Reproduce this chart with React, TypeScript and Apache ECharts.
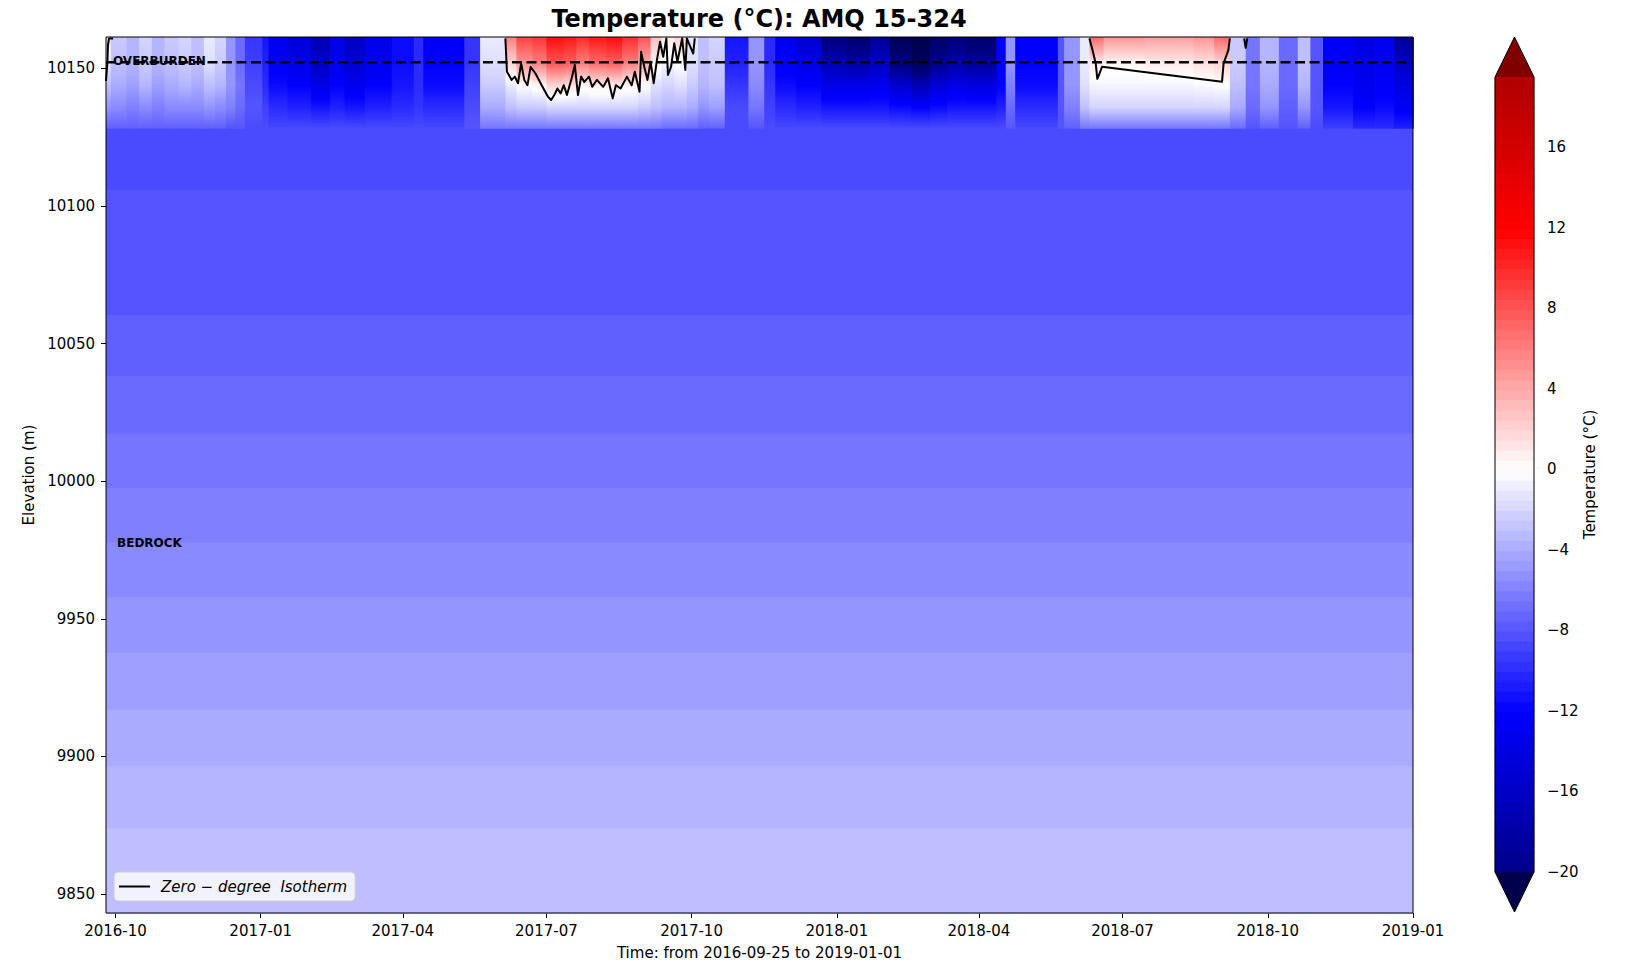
import React, { useEffect, useRef } from 'react';
import * as echarts from 'echarts';

const FONT = 'DejaVu Sans';

// ---------- axes ----------
const X_MIN = '2016-09-25';
const X_MAX = '2019-01-01';
const xTickDates = ['2016-10-01', '2017-01-01', '2017-04-01', '2017-07-01', '2017-10-01', '2018-01-01', '2018-04-01', '2018-07-01', '2018-10-01', '2019-01-01'];
const Y_MIN = 9843.1;
const Y_MAX = 10161.4;
const yTicks = [9850, 9900, 9950, 10000, 10050, 10100, 10150];

// ---------- deep (bedrock) temperature bands, constant in time ----------
const bandTopElev = [10128.3, 10105.8, 10060.4, 10038.3, 10017.2, 9997.6, 9977.6, 9957.7, 9937.7, 9917.0, 9896.3, 9873.8];
const bandTemp = [-8.5, -8.0, -7.5, -7.0, -6.5, -6.0, -5.5, -5.0, -4.5, -4.0, -3.5, -3.0];

// ---------- shallow temperatures (time columns) ----------
const shallowElev = [10161.4, 10152, 10144, 10136, 10128.3];
const shallowDates = [
  '2016-09-25', '2016-09-28', '2016-10-08', '2016-10-16', '2016-10-24', '2016-11-01', '2016-11-10', '2016-11-18', '2016-11-26', '2016-12-03',
  '2016-12-10', '2016-12-16', '2016-12-22', '2017-01-02', '2017-01-06', '2017-01-18', '2017-02-02', '2017-02-14', '2017-02-23', '2017-03-08',
  '2017-03-25', '2017-04-08', '2017-04-14', '2017-05-10', '2017-05-20', '2017-06-05', '2017-06-12', '2017-06-22', '2017-07-01', '2017-07-12',
  '2017-07-20', '2017-07-28', '2017-08-08', '2017-08-18', '2017-08-28', '2017-09-05', '2017-09-12', '2017-09-20', '2017-09-28', '2017-10-05',
  '2017-10-12', '2017-10-22', '2017-11-06', '2017-11-16', '2017-11-23', '2017-12-06', '2017-12-22', '2018-01-07', '2018-01-22', '2018-02-03',
  '2018-02-17', '2018-03-01', '2018-03-12', '2018-03-24', '2018-04-12', '2018-04-18', '2018-04-24', '2018-05-21', '2018-05-25', '2018-06-04',
  '2018-06-10', '2018-06-19', '2018-07-15', '2018-08-15', '2018-08-28', '2018-09-07', '2018-09-17', '2018-09-26', '2018-10-08', '2018-10-20',
  '2018-10-28', '2018-11-05', '2018-11-24', '2018-12-08', '2018-12-20', '2019-01-01'
];
const tTop = [
  2, -2.5, -3.5, -2, -3.5, -2.5, -2, -3, -1, -2,
  -5, -7, -9.5, -11, -13, -14.5, -17, -13.5, -16, -13.5,
  -11.5, -10, -12.5, -9.5, -1, 6, 9, 9.5, 11.5, 11,
  10, 11, 11.5, 10, 8, 3, 1, 2, -1, -3,
  -2, -11, -5, -10, -13, -15, -21, -22, -19, -23,
  -24, -22, -21, -22, -12.5, -5, -12, -8, -5, -1,
  7, 5, 4.5, 5, 7, -2.5, -6.5, -3.5, -7, -3,
  -8, -12.5, -14, -13, -19
];
const t10152 = [
  -1, -3, -3.5, -2.5, -3.5, -3, -2.5, -3, -1.5, -2.5,
  -5, -7, -9, -10.5, -12.5, -13.5, -16, -13, -15, -13,
  -11.5, -10, -12, -9.5, -1.5, 2, 5, 6, 8, 7.5,
  6, 7, 7.5, 6, 4, 0.5, -0.5, 0, -1.5, -3,
  -2.5, -10.5, -5, -10, -12.5, -13.5, -17, -18, -16, -21,
  -23, -20, -18, -19, -12.5, -5, -12, -8, -5, -1,
  1, 0.5, 1, 1.5, 2, -2.5, -6.5, -3.5, -7, -3,
  -8, -12.5, -13.5, -13, -16
];
const t10144 = [
  -3, -4, -4.5, -3.5, -4.5, -4, -3.5, -4, -3, -3.5,
  -5, -6.5, -8.5, -10, -11.5, -12, -13.5, -12, -13, -12,
  -11, -10, -11.5, -9, -2.5, -1, 0, 0.5, 2, 1.5,
  0.5, 1, 1, 0.5, 0, -1.5, -2, -1.5, -2.5, -3.5,
  -3, -9.5, -5.5, -9.5, -11.5, -12, -13.5, -13.5, -13, -15,
  -17, -14.5, -13.5, -14, -12, -6, -11.5, -8, -5, -1.5,
  -0.5, -0.5, -0.5, -0.3, 0, -3, -6.5, -4, -7, -3.5,
  -8, -12, -13, -12.5, -14
];
const t10136 = [
  -5, -5.5, -6, -5.5, -6, -5.5, -5.5, -5.5, -5, -5.5,
  -6, -7, -8, -9, -10, -10.5, -11, -10.5, -11, -10.5,
  -10, -9.5, -10, -8.5, -4, -3, -2.5, -2.5, -2, -2,
  -2, -2, -2, -2, -2.5, -3, -3.5, -3.5, -4, -5,
  -4.5, -8.5, -6.5, -9, -10, -10.5, -11, -11, -11, -11.5,
  -12, -11.5, -11, -11, -10.5, -7, -10, -8, -6, -3,
  -2, -2, -2, -2, -2, -4, -7, -5, -7.5, -5,
  -8, -11, -12, -11.5, -12.5
];
const t10128 = [
  -7.5, -7.5, -7.5, -7.5, -7.5, -7.5, -7.5, -7.5, -7.5, -7.5,
  -8, -8, -8.5, -8.5, -8.5, -8.5, -8.5, -8.5, -8.5, -8.5,
  -8.5, -8.5, -8.5, -8, -6.5, -6.5, -6.5, -6.5, -6.5, -6.5,
  -6.5, -6.5, -6.5, -6.5, -6.5, -6.5, -7, -7, -7, -7.5,
  -7.5, -8.5, -8, -8.5, -8.5, -8.5, -8.5, -8.5, -8.5, -8.5,
  -8.5, -8.5, -8.5, -8.5, -8.5, -8, -8.5, -8, -7.5, -6.5,
  -6.5, -6.5, -6.5, -6.5, -6.5, -7, -8, -7.5, -8, -7.5,
  -8.5, -9, -10, -10, -10.5
];

// ---------- zero-degree isotherm (null = break) ----------
const isoDates = [
  '2016-09-25 00:00', '2016-09-25 22:00', '2016-09-26 06:00', '2016-09-26 22:00', '2016-09-29 12:00', '2016-10-01 00:00',
  '2017-06-05', '2017-06-06', '2017-06-09', '2017-06-11', '2017-06-13', '2017-06-15', '2017-06-17', '2017-06-19', '2017-06-21', '2017-06-24',
  '2017-06-28', '2017-07-02', '2017-07-04', '2017-07-06', '2017-07-08', '2017-07-10', '2017-07-12', '2017-07-14', '2017-07-17', '2017-07-19',
  '2017-07-21', '2017-07-23', '2017-07-25', '2017-07-28', '2017-07-30', '2017-08-02', '2017-08-06', '2017-08-09', '2017-08-12', '2017-08-14',
  '2017-08-17', '2017-08-21', '2017-08-24', '2017-08-26', '2017-08-29', '2017-08-30', '2017-09-01', '2017-09-03', '2017-09-05', '2017-09-07',
  '2017-09-09', '2017-09-11', '2017-09-13', '2017-09-15', '2017-09-16', '2017-09-18', '2017-09-20', '2017-09-22', '2017-09-25', '2017-09-27',
  '2017-09-28', '2017-10-02', '2017-10-03', '2017-10-10',
  '2018-06-10', '2018-06-12', '2018-06-14', '2018-06-15', '2018-06-16', '2018-06-18', '2018-09-02', '2018-09-03', '2018-09-06', '2018-09-07', '2018-09-12',
  '2018-09-16', '2018-09-17', '2018-09-18'
];
const isoElev = [
  10145.4, 10152.3, 10158.5, 10160.9, 10160.9, null,
  10160.9, 10148.8, 10145.8, 10147.0, 10144.6, 10151.8, 10145.8, 10143.9, 10150.6, 10148.2,
  10143.9, 10139.7, 10138.5, 10140.3, 10142.7, 10140.9, 10143.9, 10140.3, 10146.4, 10151.2,
  10140.3, 10147.0, 10145.1, 10147.0, 10143.3, 10145.8, 10143.3, 10146.4, 10139.1, 10143.9,
  10142.7, 10147.0, 10143.9, 10148.8, 10141.5, 10156.0, 10150.6, 10145.8, 10152.4, 10144.6,
  10153.0, 10159.7, 10154.2, 10160.9, 10147.6, 10150.6, 10159.1, 10152.4, 10160.9, 10149.4,
  10160.9, 10155.4, 10160.9, null,
  10160.9, 10156.6, 10151.8, 10146.2, 10147.5, 10150.6, 10145.1, 10151.8, 10156.6, 10160.9, null,
  10160.9, 10157.5, 10160.9
];
const ISO_NAME = 'Zero − degree  Isotherm';

// ---------- overburden / bedrock ----------
const OVERBURDEN_ELEV = 10152.2;
const annoText = ['OVERBURDEN', 'BEDROCK'];
const annoDate = ['2016-09-29 10:00', '2016-10-02 00:00'];
const annoElev = [10152.5, 9977.6];

// ---------- colour bar ----------
const CB_MIN = -20;
const CB_MAX = 19.5;
const CB_STEP = 0.5;
const cbTicks = [-20, -16, -12, -8, -4, 0, 4, 8, 12, 16];
const CB_AXIS_MIN = -21.99;
const CB_AXIS_MAX = 21.49;

function ts(s: string): number {
  const [d, t] = s.split(' ');
  const [y, m, dd] = d.split('-').map(Number);
  let h = 0, mi = 0;
  if (t) [h, mi] = t.split(':').map(Number);
  return new Date(y, m - 1, dd, h, mi).getTime();
}

// matplotlib "seismic" colormap, normalised on [-24, 24]
function seismic(T: number): string {
  let f = (T + 24) / 48;
  f = Math.max(0, Math.min(1, f));
  let r: number, g: number, b: number;
  if (f < 0.25) { r = 0; g = 0; b = 0.3 + 0.7 * f / 0.25; }
  else if (f < 0.5) { r = (f - 0.25) / 0.25; g = r; b = 1; }
  else if (f < 0.75) { r = 1; g = 1 - (f - 0.5) / 0.25; b = g; }
  else { r = 1 - 0.5 * (f - 0.75) / 0.25; g = 0; b = 0; }
  return `rgb(${Math.round(r * 255)},${Math.round(g * 255)},${Math.round(b * 255)})`;
}

export default function App() {
  const ref = useRef<HTMLDivElement>(null);
  useEffect(() => {
    if (!ref.current) return;
    const chart = echarts.init(ref.current, undefined, { renderer: 'svg' });
    const xMin = ts(X_MIN);
    const xMax = ts(X_MAX);

    const bandData = bandTemp.map((t, i) => [xMin, xMax, bandTopElev[i], i + 1 < bandTopElev.length ? bandTopElev[i + 1] : Y_MIN, t]);
    const shallowData = tTop.map((_, i) => [ts(shallowDates[i]), ts(shallowDates[i + 1]), tTop[i], t10152[i], t10144[i], t10136[i], t10128[i]]);
    const isoData = isoDates.map((d, i) => [ts(d), isoElev[i] === null ? '-' : isoElev[i]]);
    const annoData = annoText.map((_, i) => [ts(annoDate[i]), annoElev[i]]);
    const cbData: number[][] = [];
    for (let v = CB_MIN; v < CB_MAX - 1e-9; v += CB_STEP) cbData.push([v, v + CB_STEP]);
    const xTickVals = xTickDates.map(ts);

    const option: any = {
      animation: false,
      textStyle: { fontFamily: FONT, color: '#000' },
      title: {
        text: 'Temperature (°C): AMQ 15-324', left: 759, top: 7, textAlign: 'center', padding: 0,
        textStyle: { fontSize: 24, fontWeight: 'bold', fontFamily: FONT, color: '#000' }
      },
      legend: {
        data: [ISO_NAME], left: 114, top: 872, selectedMode: false,
        icon: 'rect', itemWidth: 31, itemHeight: 2,
        itemStyle: { color: '#000' },
        backgroundColor: 'rgba(255,255,255,0.8)', borderColor: '#cccccc', borderWidth: 1, borderRadius: 4,
        padding: [7, 8, 7, 5],
        textStyle: { fontStyle: 'italic', fontSize: 15, fontFamily: FONT, color: '#000', padding: [0, 0, 0, 6] }
      },
      grid: [
        { left: 106, top: 37, width: 1307, height: 876, show: false, outerBoundsMode: 'none', containLabel: false },
        { left: 1495, top: 37, width: 39, height: 875, show: false, outerBoundsMode: 'none', containLabel: false }
      ],
      xAxis: [
        {
          type: 'value', gridIndex: 0, min: xMin, max: xMax, scale: true,
          name: `Time: from ${X_MIN} to ${X_MAX}`, nameLocation: 'middle', nameGap: 32,
          nameTextStyle: { fontSize: 15, fontFamily: FONT, color: '#000' },
          axisLine: { show: false },
          splitLine: { show: false },
          axisTick: { show: true, customValues: xTickVals, length: 5, lineStyle: { color: '#000', width: 1 } },
          axisLabel: {
            customValues: xTickVals, fontSize: 15, color: '#000', margin: 10, fontFamily: FONT,
            formatter: (v: number) => { const d = new Date(v); return `${d.getFullYear()}-${String(d.getMonth() + 1).padStart(2, '0')}`; }
          }
        },
        { type: 'value', gridIndex: 1, min: 0, max: 1, show: false }
      ],
      yAxis: [
        {
          type: 'value', gridIndex: 0, min: Y_MIN, max: Y_MAX, scale: true,
          name: 'Elevation (m)', nameLocation: 'middle', nameGap: 67,
          nameTextStyle: { fontSize: 15, fontFamily: FONT, color: '#000' },
          axisLine: { show: false },
          splitLine: { show: false },
          axisTick: { show: true, customValues: yTicks, length: 5, lineStyle: { color: '#000', width: 1 } },
          axisLabel: { customValues: yTicks, fontSize: 15, color: '#000', margin: 11, fontFamily: FONT, formatter: (v: number) => String(v) }
        },
        {
          type: 'value', gridIndex: 1, min: CB_AXIS_MIN, max: CB_AXIS_MAX, position: 'right',
          name: 'Temperature (°C)', nameLocation: 'middle', nameGap: 47, nameRotate: 90,
          nameTextStyle: { fontSize: 15, fontFamily: FONT, color: '#000' },
          axisLine: { show: false },
          splitLine: { show: false },
          axisTick: { show: true, customValues: cbTicks, length: 5, lineStyle: { color: '#000', width: 1 } },
          axisLabel: {
            customValues: cbTicks, fontSize: 15, color: '#000', margin: 13, fontFamily: FONT,
            formatter: (v: number) => (v < 0 ? '\u2212' + Math.abs(v) : String(v))
          }
        }
      ],
      series: [
        {
          type: 'custom', name: 'bands', xAxisIndex: 0, yAxisIndex: 0, silent: true,
          encode: { x: [0, 1], y: [2, 3] },
          data: bandData,
          renderItem: (params: any, api: any) => {
            const p1 = api.coord([api.value(0), api.value(2)]);
            const p2 = api.coord([api.value(1), api.value(3)]);
            return {
              type: 'rect',
              shape: { x: p1[0], y: p1[1], width: p2[0] - p1[0], height: p2[1] - p1[1] + 0.8 },
              style: { fill: seismic(api.value(4)) }
            };
          }
        },
        {
          type: 'custom', name: 'shallow', xAxisIndex: 0, yAxisIndex: 0, silent: true,
          encode: { x: [0, 1] },
          data: shallowData,
          renderItem: (params: any, api: any) => {
            const t = [api.value(2), api.value(3), api.value(4), api.value(5), api.value(6)];
            const p1 = api.coord([api.value(0), shallowElev[0]]);
            const p2 = api.coord([api.value(1), shallowElev[4]]);
            const H = shallowElev[0] - shallowElev[4];
            const stops: any[] = [];
            const N = 8;
            for (let k = 0; k < 4; k++) {
              for (let j = 0; j <= N; j++) {
                if (j === N && k < 3) continue;
                const fr = j / N;
                const e = shallowElev[k] + (shallowElev[k + 1] - shallowElev[k]) * fr;
                const T = t[k] + (t[k + 1] - t[k]) * fr;
                stops.push({ offset: (shallowElev[0] - e) / H, color: seismic(T) });
              }
            }
            return {
              type: 'rect',
              shape: { x: p1[0], y: p1[1], width: p2[0] - p1[0] + 0.8, height: p2[1] - p1[1] + 0.6 },
              style: { fill: new echarts.graphic.LinearGradient(0, 0, 0, 1, stops) }
            };
          }
        },
        {
          type: 'line', name: 'overburden', xAxisIndex: 0, yAxisIndex: 0, silent: true,
          symbol: 'none',
          data: [[xMin, OVERBURDEN_ELEV], [xMax, OVERBURDEN_ELEV]],
          lineStyle: { color: '#000', width: 2.5, type: [10, 4.5] }
        },
        {
          type: 'line', name: ISO_NAME, xAxisIndex: 0, yAxisIndex: 0, silent: true,
          symbol: 'none', connectNulls: false,
          data: isoData,
          itemStyle: { color: '#000' },
          lineStyle: { color: '#000', width: 2, join: 'round' }
        },
        {
          type: 'custom', name: 'annotations', xAxisIndex: 0, yAxisIndex: 0, silent: true,
          data: annoData,
          renderItem: (params: any, api: any) => {
            const p = api.coord([api.value(0), api.value(1)]);
            return {
              type: 'text', x: p[0], y: p[1],
              style: { text: annoText[params.dataIndex], fill: '#000', font: `bold 12px "${FONT}"`, align: 'left', verticalAlign: 'middle' }
            };
          }
        },
        {
          type: 'custom', name: 'frame', xAxisIndex: 0, yAxisIndex: 0, silent: true,
          data: [[xMin, xMax, Y_MAX, Y_MIN]],
          encode: { x: [0, 1], y: [2, 3] },
          renderItem: (params: any, api: any) => {
            const p1 = api.coord([api.value(0), api.value(2)]);
            const p2 = api.coord([api.value(1), api.value(3)]);
            return {
              type: 'rect',
              shape: { x: p1[0], y: p1[1], width: p2[0] - p1[0], height: p2[1] - p1[1] },
              style: { fill: 'none', stroke: '#000', lineWidth: 1 }
            };
          }
        },
        {
          type: 'custom', name: 'colorbar', xAxisIndex: 1, yAxisIndex: 1, silent: true,
          data: cbData,
          encode: { y: [0, 1] },
          renderItem: (params: any, api: any) => {
            const lo = api.value(0), hi = api.value(1);
            const p1 = api.coord([0, hi]);
            const p2 = api.coord([1, lo]);
            const c = seismic((lo + hi) / 2);
            return {
              type: 'rect',
              shape: { x: p1[0], y: p1[1], width: p2[0] - p1[0], height: p2[1] - p1[1] + 1 },
              style: { fill: c, stroke: c, lineWidth: 0.5 }
            };
          }
        },
        {
          type: 'custom', name: 'colorbarExt', xAxisIndex: 1, yAxisIndex: 1, silent: true,
          data: [[0, CB_MIN, CB_MAX]],
          renderItem: (params: any, api: any) => {
            const tl = api.coord([0, CB_MAX]);
            const tr = api.coord([1, CB_MAX]);
            const at = api.coord([0.5, CB_AXIS_MAX]);
            const bl = api.coord([0, CB_MIN]);
            const br = api.coord([1, CB_MIN]);
            const ab = api.coord([0.5, CB_AXIS_MIN]);
            return {
              type: 'group',
              children: [
                { type: 'polygon', shape: { points: [tl, tr, at] }, style: { fill: seismic(24) } },
                { type: 'polygon', shape: { points: [bl, br, ab] }, style: { fill: seismic(-24) } },
                { type: 'polygon', shape: { points: [at, tr, br, ab, bl, tl] }, style: { fill: 'none', stroke: '#000', lineWidth: 1 } }
              ]
            };
          }
        }
      ]
    };
    chart.setOption(option);
    return () => chart.dispose();
  }, []);
  return <div ref={ref} style={{ position: 'absolute', left: 0, top: 0, width: 1626, height: 965 }} />;
}
